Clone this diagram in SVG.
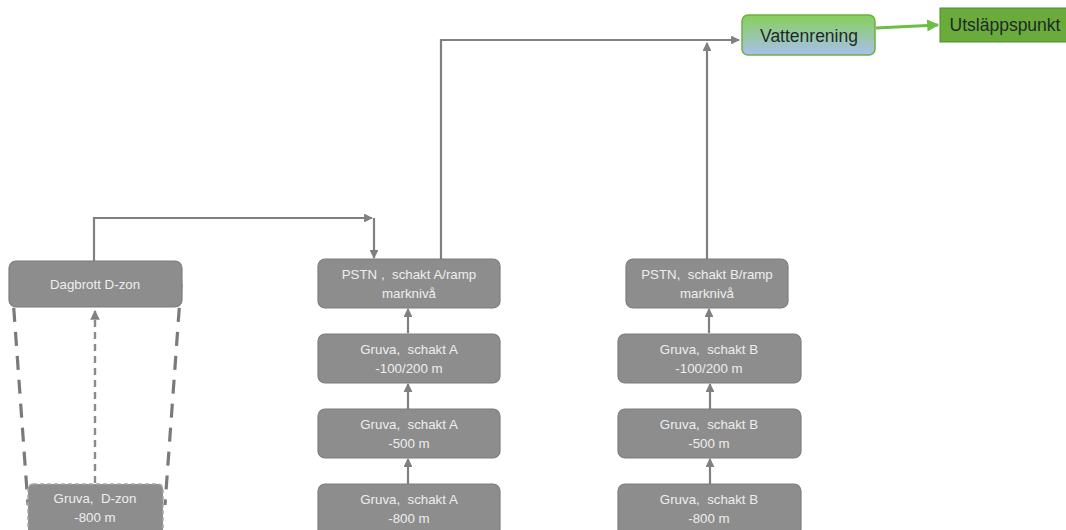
<svg xmlns="http://www.w3.org/2000/svg" width="1066" height="530" viewBox="0 0 1066 530">
<style>
.box{fill:#8d8d8d;stroke:#7d7d7d;stroke-width:1.2}
.t{font-family:"Liberation Sans",Arial,sans-serif;font-size:13.3px;fill:#eeeeee;text-anchor:middle;white-space:pre}
.c{fill:none;stroke:#808080;stroke-width:2.2}
.big{font-family:"Liberation Sans",Arial,sans-serif;font-size:17.5px;fill:#1e2a2a;text-anchor:middle}
</style>
<defs>
<marker id="ah" viewBox="0 0 10 10" refX="9" refY="5" markerWidth="4" markerHeight="4" orient="auto"><path d="M0,0 L10,5 L0,10 z" fill="#808080"/></marker>
<marker id="ahg" viewBox="0 0 10 10" refX="9" refY="5" markerWidth="4" markerHeight="4" orient="auto"><path d="M0,0 L10,5 L0,10 z" fill="#6cbf45"/></marker>
<linearGradient id="vg" x1="0" y1="0" x2="0" y2="1"><stop offset="0" stop-color="#86d05a"/><stop offset="1" stop-color="#a9bfec"/></linearGradient>
</defs>
<g id="connectors">
<path class="c" d="M94,261 V218 H372" marker-end="url(#ah)"/>
<path class="c" d="M374,218 V258" marker-end="url(#ah)"/>
<path class="c" d="M441,259 V40 H739" marker-end="url(#ah)"/>
<path class="c" d="M707,259 V43" marker-end="url(#ah)"/>
<path class="c" d="M408,333 V309" marker-end="url(#ah)"/>
<path class="c" d="M408,409 V384" marker-end="url(#ah)"/>
<path class="c" d="M408,484 V459" marker-end="url(#ah)"/>
<path class="c" d="M709,333 V309" marker-end="url(#ah)"/>
<path class="c" d="M710,409 V384" marker-end="url(#ah)"/>
<path class="c" d="M710,484 V459" marker-end="url(#ah)"/>
<path fill="none" stroke="#6cbf45" stroke-width="3" d="M876,28 L938,25" marker-end="url(#ahg)"/>
<path fill="none" stroke="#7a7a7a" stroke-width="3.2" stroke-dasharray="14,10" d="M12,284 L28,505"/>
<path fill="none" stroke="#7a7a7a" stroke-width="3.2" stroke-dasharray="14,10" d="M181,284 L165,505"/>
<path fill="none" stroke="#8a8a8a" stroke-width="2.4" stroke-dasharray="7,5" d="M95,483 V311" marker-end="url(#ah)"/>
</g>
<g id="dagbrott"><rect class="box" x="9" y="261" width="173" height="46" rx="7"/><text class="t" x="95" y="289">Dagbrott D-zon</text></g>
<g id="gruva-dzon"><rect x="28" y="484" width="135" height="50" rx="5" fill="#8d8d8d" stroke="#a8a8a8" stroke-width="1.5" stroke-dasharray="4,3"/><text class="t" x="95" y="503">Gruva,  D-zon</text><text class="t" x="95" y="522">-800 m</text></g>
<g id="pstn-a"><rect class="box" x="318" y="259" width="182" height="49" rx="7"/><text class="t" x="409" y="279">PSTN ,  schakt A/ramp</text><text class="t" x="409" y="298">marknivå</text></g>
<g id="a-100"><rect class="box" x="318" y="334" width="182" height="49" rx="7"/><text class="t" x="409" y="354">Gruva,  schakt A</text><text class="t" x="409" y="373">-100/200 m</text></g>
<g id="a-500"><rect class="box" x="318" y="409" width="182" height="49" rx="7"/><text class="t" x="409" y="429">Gruva,  schakt A</text><text class="t" x="409" y="448">-500 m</text></g>
<g id="a-800"><rect class="box" x="318" y="484" width="182" height="52" rx="7"/><text class="t" x="409" y="504">Gruva,  schakt A</text><text class="t" x="409" y="523">-800 m</text></g>
<g id="pstn-b"><rect class="box" x="626" y="259" width="162" height="49" rx="7"/><text class="t" x="707" y="279">PSTN,  schakt B/ramp</text><text class="t" x="707" y="298">marknivå</text></g>
<g id="b-100"><rect class="box" x="618" y="334" width="183" height="49" rx="7"/><text class="t" x="709" y="354">Gruva,  schakt B</text><text class="t" x="709" y="373">-100/200 m</text></g>
<g id="b-500"><rect class="box" x="618" y="409" width="183" height="49" rx="7"/><text class="t" x="709" y="429">Gruva,  schakt B</text><text class="t" x="709" y="448">-500 m</text></g>
<g id="b-800"><rect class="box" x="618" y="484" width="183" height="52" rx="7"/><text class="t" x="709" y="504">Gruva,  schakt B</text><text class="t" x="709" y="523">-800 m</text></g>
<g id="vattenrening"><rect x="742" y="15" width="133" height="40" rx="6" fill="url(#vg)" stroke="#6cb043" stroke-width="1.5"/><text class="big" x="809" y="42">Vattenrening</text></g>
<g id="utslappspunkt"><rect x="940" y="8" width="130" height="34" fill="#6aab3b" stroke="#4f8a2c" stroke-width="1"/><text class="big" x="1005" y="31">Utsläppspunkt</text></g>
</svg>
